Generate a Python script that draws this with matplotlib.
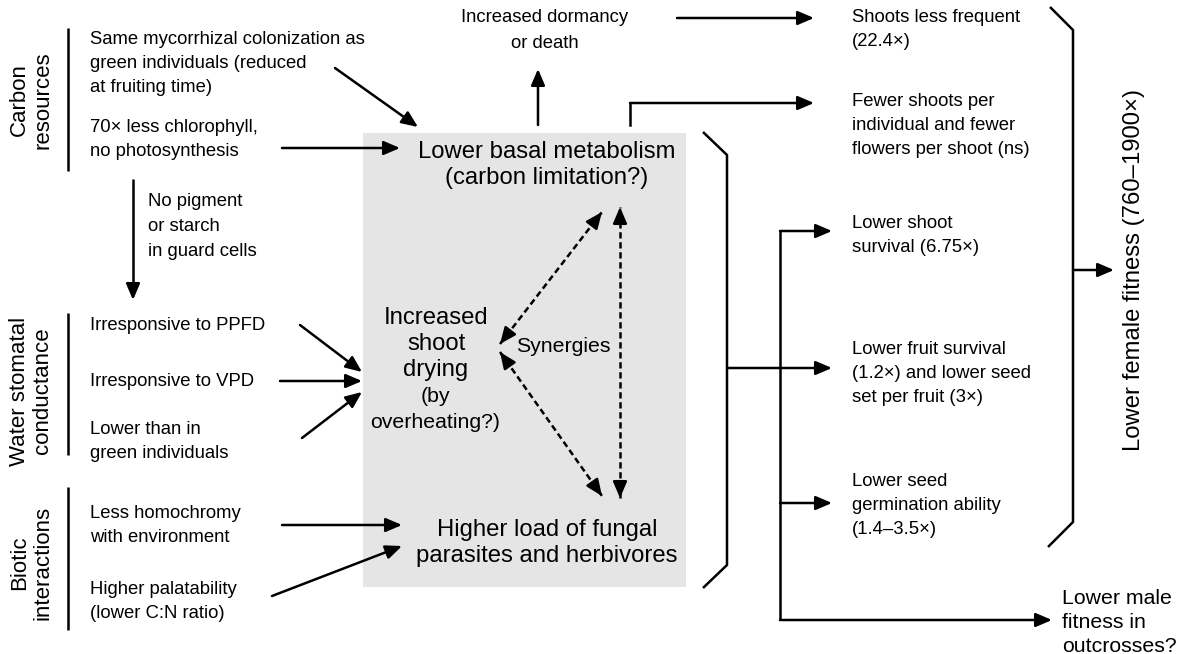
import matplotlib.pyplot as plt

plt.rcParams['font.family'] = ['Liberation Sans', 'DejaVu Sans']

# text content of the diagram
group_labels = ["Carbon\nresources", "Water stomatal\nconductance", "Biotic\ninteractions"]
carbon_causes = [["Same mycorrhizal colonization as", "green individuals (reduced", "at fruiting time)"],
                 ["70\u00d7 less chlorophyll,", "no photosynthesis"]]
guard_cells = ["No pigment", "or starch", "in guard cells"]
water_causes = [["Irresponsive to PPFD"], ["Irresponsive to VPD"], ["Lower than in", "green individuals"]]
biotic_causes = [["Less homochromy", "with environment"], ["Higher palatability", "(lower C:N ratio)"]]
metabolism = ["Lower basal metabolism", "(carbon limitation?)"]
drying = ["Increased", "shoot", "drying"]
drying_note = ["(by", "overheating?)"]
parasites = ["Higher load of fungal", "parasites and herbivores"]
synergy = "Synergies"
dormancy = ["Increased dormancy", "or death"]
outcomes = [["Shoots less frequent", "(22.4\u00d7)"],
            ["Fewer shoots per", "individual and fewer", "flowers per shoot (ns)"],
            ["Lower shoot", "survival (6.75\u00d7)"],
            ["Lower fruit survival", "(1.2\u00d7) and lower seed", "set per fruit (3\u00d7)"],
            ["Lower seed", "germination ability", "(1.4\u20133.5\u00d7)"]]
female_label = "Lower female fitness (760\u20131900\u00d7)"
male_label = ["Lower male", "fitness in", "outcrosses?"]

fig = plt.figure(figsize=(11.81, 6.54), dpi=100)
ax = fig.add_axes([0, 0, 1, 1])
ax.set_xlim(0, 1181)
ax.set_ylim(654, 0)
ax.axis('off')

LW = 1.8
SMALL = 13.3
MID = 15.3
BIG = 17.2
STEP = 24


def put_lines(lines, x, y0, size=SMALL, ha='left', step=STEP):
    for i, s in enumerate(lines):
        ax.text(x, y0 + i * step, s, fontsize=size, ha=ha, va='center')


def arrow(x0, y0, x1, y1):
    ax.annotate('', xy=(x1, y1), xytext=(x0, y0),
                arrowprops=dict(arrowstyle='-|>,head_length=0.7,head_width=0.3',
                                mutation_scale=14, color='black', lw=LW,
                                shrinkA=0, shrinkB=0))


def path_arrow(xs, ys):
    ax.plot(xs[:-1], ys[:-1], color='black', lw=LW, solid_joinstyle='miter')
    arrow(xs[-2], ys[-2], xs[-1], ys[-1])


def dashed_double(x0, y0, x1, y1):
    ax.plot([x0, x1], [y0, y1], color='black', lw=LW, ls=(0, (2.5, 1.5)))
    dx, dy = x1 - x0, y1 - y0
    n = (dx ** 2 + dy ** 2) ** 0.5
    ux, uy = dx / n * 10, dy / n * 10
    arrow(x1 - ux, y1 - uy, x1, y1)
    arrow(x0 + ux, y0 + uy, x0, y0)


def line(xs, ys):
    ax.plot(xs, ys, color='black', lw=LW, solid_joinstyle='miter', solid_capstyle='butt')


# grey box
ax.add_patch(plt.Rectangle((363, 133), 323, 454, facecolor='#e5e5e5', edgecolor='none', zorder=0))

# left groups
for lab, yc in zip(group_labels, [100, 391, 563]):
    ax.text(31, yc, lab, fontsize=16, rotation=90, ha='center', va='center',
            multialignment='center', linespacing=1.15)
for y0, y1 in [(28, 171), (313, 455), (487, 630)]:
    line([68, 68], [y0, y1])

put_lines(carbon_causes[0], 90, 40)
put_lines(carbon_causes[1], 90, 127)
put_lines(guard_cells, 148, 201, step=25.5)
line([133, 133], [179, 290])
arrow(133, 285, 133, 300)
put_lines(water_causes[0], 90, 325)
put_lines(water_causes[1], 90, 382)
put_lines(water_causes[2], 90, 430)
put_lines(biotic_causes[0], 90, 513)
put_lines(biotic_causes[1], 90, 590)

arrow(335, 68, 418, 127)
arrow(282, 148, 400, 148)
arrow(300, 325, 362, 372)
arrow(280, 381, 362, 381)
arrow(302, 438, 362, 392)
arrow(282, 525, 402, 525)
arrow(272, 596, 402, 546)

# inside the box
put_lines(metabolism, 547, 152, size=BIG, ha='center', step=26)
put_lines(drying, 436, 318, size=BIG, ha='center', step=26)
put_lines(drying_note, 435, 397, size=MID, ha='center', step=25)
ax.text(563, 347, synergy, fontsize=MID, ha='center', va='center')
put_lines(parasites, 547, 530, size=BIG, ha='center', step=26)

dashed_double(500, 344, 602, 212)
dashed_double(500, 352, 602, 496)
dashed_double(620, 498, 620, 207)

# top
put_lines(dormancy, 545, 18, ha='center', step=25)
arrow(538, 125, 538, 69)
arrow(677, 18, 814, 18)
path_arrow([630, 630, 814], [125, 103, 103])

# bracket after box
line([703, 727, 727, 703], [132, 155, 565, 588])
arrow(727, 368, 832, 368)
line([780, 780], [231, 620])
arrow(780, 231, 832, 231)
arrow(780, 503, 832, 503)
arrow(780, 620, 1052, 620)

# outcomes
for lines, y0 in zip(outcomes, [17, 101, 223, 349, 482]):
    put_lines(lines, 852, y0)

# right bracket
line([1050, 1073, 1073, 1048], [7, 30, 522, 547])
arrow(1073, 270, 1114, 270)
ax.text(1134, 270, female_label, fontsize=BIG, rotation=90, ha='center', va='center')
put_lines(male_label, 1062, 598, size=MID, step=24)

fig.savefig('out.png', dpi=100)
